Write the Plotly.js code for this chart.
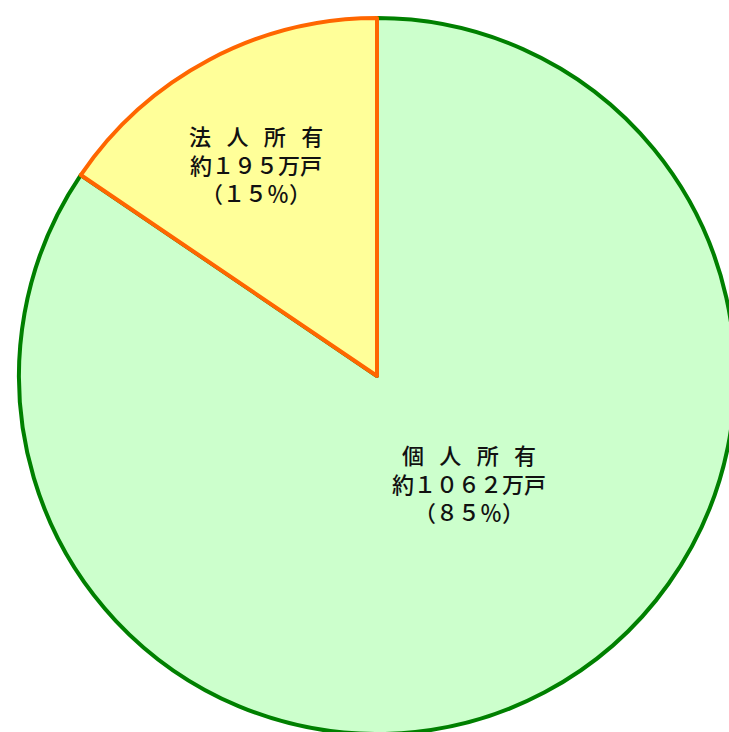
<!DOCTYPE html>
<html>
<head>
<meta charset="utf-8">
<script src="https://cdn.plot.ly/plotly-3.0.1.min.js"></script>
<style>
html,body{margin:0;padding:0;overflow:hidden;background:#fff;width:729px;height:732px;}
#chart{width:760px;height:760px;}
</style>
</head>
<body>
<div id="chart"></div>
<script>
const labels = ["個人所有", "法人所有"];
const values = [1062, 195];
const percents = ["８５", "１５"];
const valueTexts = ["１０６２", "１９５"];
const fills = ["#CCFFCC", "#FFFF99"];
const borders = ["#008000", "#FF6600"];

const W = 760, H = 760;
const cx = 377, cy = 376, r = 358;

function spaced(s){ return s.split("").join("\u2002\u2009"); }

const trace = {
  type: "pie",
  labels: labels,
  values: values,
  sort: false,
  direction: "clockwise",
  rotation: 0,
  textinfo: "none",
  hoverinfo: "skip",
  marker: {colors: fills, line: {color: borders, width: 4}},
  domain: {x: [(cx - r) / W, (cx + r) / W], y: [1 - (cy + r) / H, 1 - (cy - r) / H]},
  showlegend: false
};

const labelPos = [[469, 482], [256, 163]];
const annotations = labels.map((l, i) => ({
  x: labelPos[i][0] / W,
  y: 1 - labelPos[i][1] / H,
  xref: "paper", yref: "paper",
  xanchor: "center", yanchor: "middle",
  showarrow: false,
  text: spaced(l) + "<br>約" + valueTexts[i] + "万戸<br>（" + percents[i] + "％）",
  font: {family: "Noto Sans CJK JP", size: 22, color: "#111", weight: 500}
}));

Plotly.newPlot("chart", [trace], {
  width: W, height: H,
  margin: {l: 0, r: 0, t: 0, b: 0},
  paper_bgcolor: "#fff",
  annotations: annotations,
  hovermode: false
}, {staticPlot: true});
</script>
</body>
</html>
